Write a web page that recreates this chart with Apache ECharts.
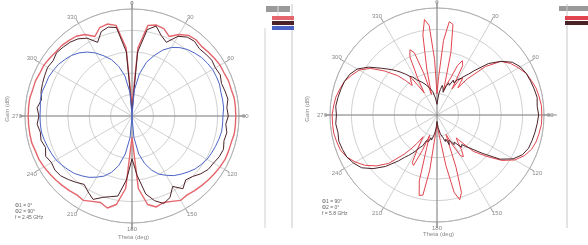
<!doctype html>
<html lang="en">
<head>
<meta charset="UTF-8">
<title>Radiation pattern</title>
<style>
  html, body { margin: 0; padding: 0; background: #fff; }
  #main { width: 588px; height: 245px; }
</style>
</head>
<body>
<div id="main"></div>
<script src="https://cdn.jsdelivr.net/npm/echarts@6/dist/echarts.min.js"></script>
<script>
// angles in degrees (0 at top, clockwise), gains in dB
var angles = [0,5,10,15,20,25,30,35,40,45,50,55,60,65,70,75,80,85,90,95,100,105,110,115,120,125,130,135,140,145,150,155,160,165,170,175,
              180,185,190,195,200,205,210,215,220,225,230,235,240,245,250,255,260,265,270,275,280,285,290,295,300,305,310,315,320,325,330,335,340,345,350,355];

// left plot
var redA  = [-35,-8,3,4,3.5,1,4,6,6.5,6,6.5,7,7.5,7.5,8,8,8.5,8.5,8.5,8.5,8.5,8,8,8,7.5,7,6.5,6,5.5,5,5.5,4,3,4,2,-6,
             -30,-6,2,4.5,3,4,5.5,5,5.5,6,6.5,7,7.5,8,8,8.5,8.5,8.5,8.5,8.5,8.5,8,8,7.5,7.5,7,6.5,6.5,6,5.5,4,1,4,4.5,3,-8];
var darkA = [-38,-10,1,3.5,0,-2,3,5,5.5,4.5,5,5.5,5,5.5,4.5,5,5.5,4.5,5,4,5,4.5,5.5,5,4,3.5,2,0,-1,1.5,-2,2,3.5,1,-3,-12,
             -20,-10,-2,-1,0.5,3,1,-1,0.5,2,3.5,4,3.5,4.5,3,4,3.5,4.5,3.5,4.5,3,4,4.5,5,5.5,5,6,5.5,5,4,2,-2,2,3,2,-10];
var blueA = [-40,-28,-20,-14,-10,-6,-3,-1,0.5,1.5,2.5,3,3.5,3.5,3.5,3,3,3,2.5,2.5,2.5,2,1.5,1,0.5,-0.5,-1.5,-3,-4.5,-6,-8,-10,-13,-17,-22,-30,
             -40,-30,-22,-16,-12,-9,-7,-5,-3.5,-2,-1,0,1,1.5,2,2.5,3,3,3,3,3.5,3.5,3,3,2.5,2,1,0,-1.5,-3.5,-6,-9,-12,-16,-21,-29];

// right plot (finer steps around the narrow top / bottom lobes)
var anglesB = [0,2.5,5,7.5,10,12.5,15,17.5,20,22.5,25,27.5,30,32.5,35,37.5,40,
               45,50,55,60,65,70,75,80,85,90,95,100,105,110,115,120,125,130,135,
               137.5,140,142.5,145,147.5,150,152.5,155,157.5,160,162.5,165,167.5,170,172.5,175,177.5,
               180,182.5,185,187.5,190,192.5,195,197.5,200,202.5,205,207.5,210,212.5,215,217.5,220,
               225,230,235,240,245,250,255,260,265,270,275,280,285,290,295,300,305,310,315,
               317.5,320,322.5,325,327.5,330,332.5,335,337.5,340,342.5,345,347.5,350,352.5,355,357.5];
var redB  = [-30,-22,-5,4,3,-10,-28,-25,-22,-15,-12,-14,-26,-20,-19,-24,-18,
             -8,-1,2,4,6,7,8,8.5,9,9,9,8.5,8,7,5,2,-3,-10,-16,
             -22,-26,-24,-20,-17,-18,-24,-30,-26,-14,-2,1,-3,-16,-28,-32,-35,
             -36,-34,-30,-14,-2,-1.5,-8,-24,-30,-22,-14,-15,-22,-28,-24,-20,-16,
             -8,-3,1,4,6.5,8,8.5,9,9,9,8.5,8,7,6,4,2,-2,-8,-14,
             -18,-22,-20,-18,-24,-28,-20,-10,-7,-9,-20,-30,-18,-2,5,2,-14];
var darkB = [-35,-33,-30,-28,-26,-27,-29,-26,-24,-25,-22,-23,-21,-20,-18,-16,-13,
             -6,-1,3,5,6,6.5,7,7.5,7,7.5,7,6.5,6,5.5,4,1,-4,-12,-18,
             -20,-22,-21,-23,-25,-24,-26,-27,-25,-28,-27,-29,-30,-31,-33,-34,-36,
             -37,-35,-33,-31,-30,-28,-29,-27,-26,-27,-24,-23,-21,-19,-17,-15,-12,
             -6,-1,3,5,6.5,7,7.5,7,7.5,7,7.5,7,6.5,6,5,3,-1,-6,-10,
             -12,-14,-16,-18,-19,-21,-22,-23,-24,-25,-26,-27,-28,-29,-31,-32,-34];

var angleTicks = [0,30,60,90,120,150,180,210,240,270,300,330];

function pts(ang, vals) {
    var out = [];
    for (var i = 0; i < ang.length; i++) out.push([vals[i], ang[i]]);
    out.push([vals[0], 360]);
    return out;
}

function angleAxis(idx) {
    return {
        polarIndex: idx, type: 'value', min: 0, max: 360, interval: 30, startAngle: 90, clockwise: true,
        axisLine: { lineStyle: { color: '#b0b0b0', width: 1 } },
        axisTick: { show: true, length: 5, lineStyle: { color: '#999' } },
        axisLabel: { fontSize: 6, color: '#888', margin: 3,
            formatter: function (v) { return angleTicks.indexOf(v) >= 0 ? String(v) : ''; } },
        splitLine: { show: true, lineStyle: { color: '#c4c4c4', width: 0.8 } }
    };
}
function radiusAxis(idx) {
    return {
        polarIndex: idx, type: 'value', min: -40, max: 10, interval: 10,
        axisLine: { show: false }, axisTick: { show: false }, axisLabel: { show: false },
        splitLine: { show: true, lineStyle: { color: '#c4c4c4', width: 0.8 } }
    };
}
function line(name, idx, data, color, w) {
    return { name: name, type: 'line', coordinateSystem: 'polar', polarIndex: idx, data: data,
             showSymbol: false, lineStyle: { color: color, width: w }, itemStyle: { color: color }, z: 3 };
}

var myChart = echarts.init(document.getElementById('main'));
var grey = '#888';
var option = {
    backgroundColor: '#fff',
    animation: false,
    polar: [
        { center: [132, 116], radius: 107 },
        { center: [437, 115], radius: 107 }
    ],
    angleAxis: [angleAxis(0), angleAxis(1)],
    radiusAxis: [radiusAxis(0), radiusAxis(1)],
    legend: [
        { data: ['Phi 0', 'Phi 90 ', 'Cross'], orient: 'vertical', left: 267, top: 11, itemGap: 1,
          itemWidth: 22, itemHeight: 4, icon: 'rect', textStyle: { fontSize: 1, color: '#fff' }, formatter: function () { return ''; } },
        { data: ['Phi 90', 'Phi 0 '], orient: 'vertical', left: 560, top: 11, itemGap: 1,
          itemWidth: 26, itemHeight: 4, icon: 'rect', textStyle: { fontSize: 1, color: '#fff' }, formatter: function () { return ''; } }
    ],
    graphic: [
        // cross hairs
        { type: 'line', shape: { x1: 20, y1: 116, x2: 246, y2: 116 }, style: { stroke: '#777', lineWidth: 0.8 }, z: 1 },
        { type: 'line', shape: { x1: 132, y1: 1, x2: 132, y2: 230 }, style: { stroke: '#777', lineWidth: 0.8 }, z: 1 },
        { type: 'line', shape: { x1: 325, y1: 115, x2: 557, y2: 115 }, style: { stroke: '#777', lineWidth: 0.8 }, z: 1 },
        { type: 'line', shape: { x1: 437, y1: 1, x2: 437, y2: 228 }, style: { stroke: '#777', lineWidth: 0.8 }, z: 1 },
        // side panels
        { type: 'rect', shape: { x: 266, y: 6, width: 24, height: 6 }, style: { fill: '#9a9a9a' } },
        { type: 'line', shape: { x1: 265, y1: 28, x2: 265, y2: 228 }, style: { stroke: '#d0d0d0', lineWidth: 1 } },
        { type: 'line', shape: { x1: 278, y1: 6, x2: 278, y2: 26 }, style: { stroke: '#ddd', lineWidth: 1 } },
        { type: 'line', shape: { x1: 292, y1: 4, x2: 292, y2: 228 }, style: { stroke: '#c8c8c8', lineWidth: 1 } },
        { type: 'rect', shape: { x: 559, y: 6, width: 29, height: 5 }, style: { fill: '#9a9a9a' } },
        { type: 'line', shape: { x1: 567, y1: 4, x2: 567, y2: 228 }, style: { stroke: '#c8c8c8', lineWidth: 1 } },
        // axis titles
        { type: 'text', left: 4, top: 96, rotation: Math.PI / 2, style: { text: 'Gain (dB)', fontSize: 6, fill: grey } },
        { type: 'text', left: 304, top: 96, rotation: Math.PI / 2, style: { text: 'Gain (dB)', fontSize: 6, fill: grey } },
        { type: 'text', left: 118, top: 234, style: { text: 'Theta (deg)', fontSize: 6, fill: grey } },
        { type: 'text', left: 423, top: 231, style: { text: 'Theta (deg)', fontSize: 6, fill: grey } },
        // notes
        { type: 'text', left: 15, top: 203, style: { text: 'Φ1 = 0°\nΦ2 = 90°\nf = 2.45 GHz', fontSize: 5, lineHeight: 6, fill: '#666' } },
        { type: 'text', left: 322, top: 199, style: { text: 'Φ1 = 90°\nΦ2 = 0°\nf = 5.8 GHz', fontSize: 5, lineHeight: 6, fill: '#666' } }
    ],
    series: [
        line('Phi 0', 0, pts(angles, redA), '#e4656b', 1.4),
        line('Phi 90 ', 0, pts(angles, darkA), '#4a2228', 1),
        line('Cross', 0, pts(angles, blueA), '#4b63c4', 1),
        line('Phi 90', 1, pts(anglesB, redB), '#e0454e', 1),
        line('Phi 0 ', 1, pts(anglesB, darkB), '#4a2228', 1)
    ]
};
myChart.setOption(option);
</script>
</body>
</html>
